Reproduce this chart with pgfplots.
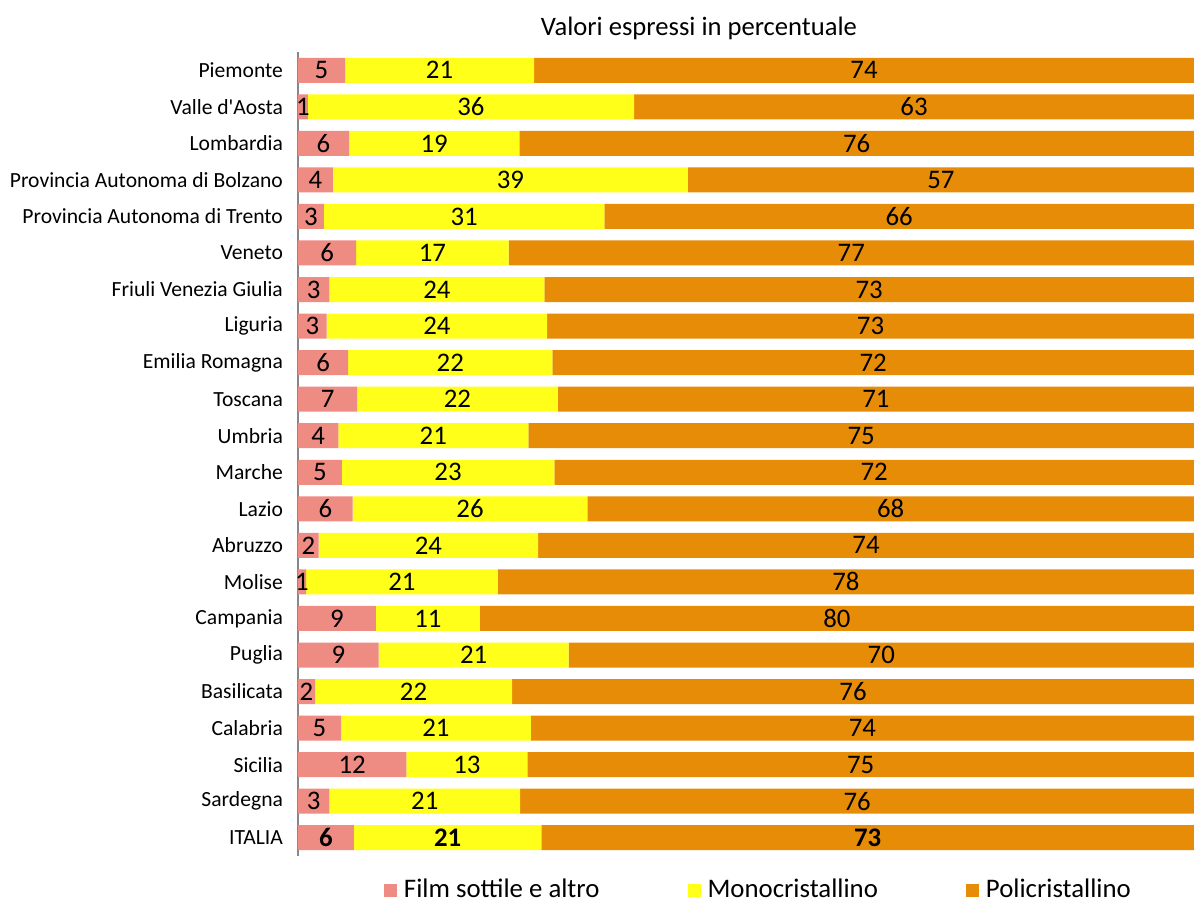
\documentclass[border=0pt]{standalone}
\usepackage{fontspec}
\setmainfont[Ligatures=TeXOff]{Carlito}
\usepackage{pgfplots}
\pgfplotsset{compat=1.18}

\definecolor{film}{RGB}{238,139,131}
\definecolor{mono}{RGB}{255,255,26}
\definecolor{poli}{RGB}{231,140,6}
\definecolor{axisgray}{RGB}{135,135,135}

\begin{document}
\begin{tikzpicture}
\begin{axis}[
    scale only axis,
    width=448pt, height=402pt,
    xbar stacked,
    bar width=12.5pt,
    xmin=0, xmax=100,
    ymin=-0.5, ymax=21.5,
    y dir=reverse,
    axis x line=none,
    axis y line*=left,
    y axis line style={draw=axisgray, line width=0.8pt},
    major tick length=0pt,
    ytick={0,...,21},
    yticklabels={Piemonte, Valle d'Aosta, Lombardia, Provincia Autonoma di Bolzano,
        Provincia Autonoma di Trento, Veneto, Friuli Venezia Giulia, Liguria,
        Emilia Romagna, Toscana, Umbria, Marche, Lazio, Abruzzo, Molise, Campania,
        Puglia, Basilicata, Calabria, Sicilia, Sardegna, ITALIA},
    yticklabel style={font=\fontsize{10.8}{12}\selectfont, xshift=-4pt},
    point meta=explicit symbolic,
    visualization depends on={rawy \as \rowy},
    nodes near coords={\ifdim\rowy pt>20.5pt\textbf{\pgfplotspointmeta}\else\pgfplotspointmeta\fi},
    every node near coord/.append style={font=\fontsize{13.4}{15}\selectfont, text=black},
    title={Valori espressi in percentuale},
    title style={at={(0.4475,1)}, anchor=center, yshift=6pt, font=\fontsize{13.3}{15}\selectfont},
    legend columns=-1,
    legend style={at={(0.515,-0.0423)}, anchor=center, draw=none,
        font=\fontsize{13.4}{15}\selectfont,
        /tikz/every even column/.append style={column sep=42pt}},
    legend image code/.code={\fill[#1] (0pt,-3.25pt) rectangle (6.5pt,3.25pt);
        \path (0pt,0pt) -- (8pt,0pt);},
]
\addplot[fill=film, draw=none] coordinates {
    (5.25,0) [5] (1.1,1) [1] (5.7,2) [6] (3.9,3) [4] (2.9,4) [3] (6.5,5) [6]
    (3.5,6) [3] (3.2,7) [3] (5.6,8) [6] (6.6,9) [7] (4.5,10) [4] (4.9,11) [5]
    (6.1,12) [6] (2.3,13) [2] (0.9,14) [1] (8.7,15) [9] (9.0,16) [9] (1.9,17) [2]
    (4.8,18) [5] (12.1,19) [12] (3.5,20) [3] (6.25,21) [6]
};
\addplot[fill=mono, draw=none] coordinates {
    (21.1,0) [21] (36.4,1) [36] (19.0,2) [19] (39.6,3) [39] (31.3,4) [31] (17.0,5) [17]
    (24.0,6) [24] (24.6,7) [24] (22.8,8) [22] (22.4,9) [22] (21.2,10) [21] (23.7,11) [23]
    (26.2,12) [26] (24.5,13) [24] (21.4,14) [21] (11.6,15) [11] (21.2,16) [21] (22.0,17) [22]
    (21.2,18) [21] (13.5,19) [13] (21.3,20) [21] (20.9,21) [21]
};
\addplot[fill=poli, draw=none] coordinates {
    (73.65,0) [74] (62.5,1) [63] (75.3,2) [76] (56.5,3) [57] (65.8,4) [66] (76.5,5) [77]
    (72.5,6) [73] (72.2,7) [73] (71.6,8) [72] (71.0,9) [71] (74.3,10) [75] (71.4,11) [72]
    (67.7,12) [68] (73.2,13) [74] (77.7,14) [78] (79.7,15) [80] (69.8,16) [70] (76.1,17) [76]
    (74.0,18) [74] (74.4,19) [75] (75.2,20) [76] (72.85,21) [73]
};
\legend{Film sottile e altro, Monocristallino, Policristallino}
\end{axis}
\pgfresetboundingbox
\path ([xshift=-149pt, yshift=-23.5pt]current axis.south west)
    rectangle ([yshift=26pt]current axis.north east);
\end{tikzpicture}
\end{document}
